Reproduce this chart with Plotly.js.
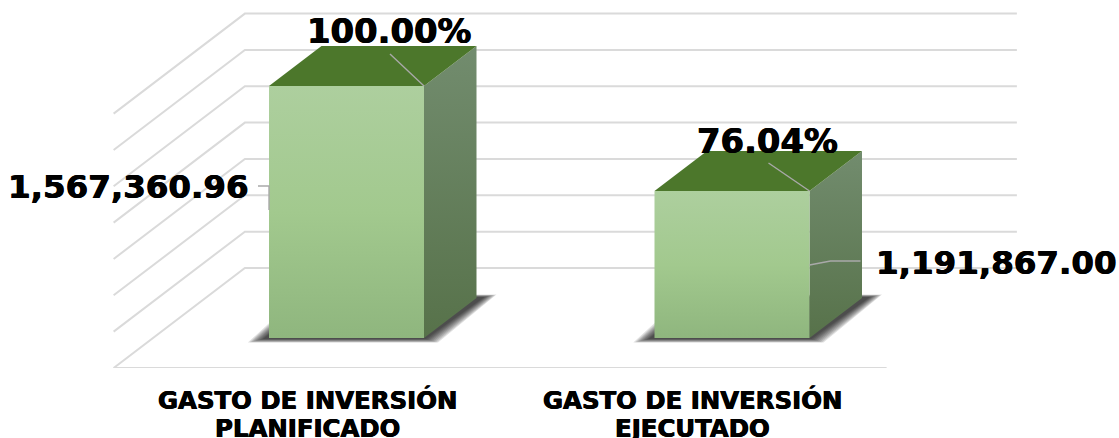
<!DOCTYPE html>
<html>
<head>
<meta charset="utf-8">
<script src="https://cdn.plot.ly/plotly-3.0.1.min.js"></script>
<style>html,body{margin:0;padding:0;background:#fff}</style>
</head>
<body>
<div id="chart" style="width:1119px;height:438px"></div>
<script>
// Data
var categoryLine1 = ["GASTO DE INVERSIÓN", "GASTO DE INVERSIÓN"];
var categoryLine2 = ["PLANIFICADO", "EJECUTADO"];
var values = [1567360.96, 1191867.00];
var valueLabels = ["1,567,360.96", "1,191,867.00"];
var percentLabels = ["100.00%", "76.04%"];
var axisBase = 666000;
var axisStep = 130000;
var gridIndex = [0, 1, 2, 3, 4, 5, 6, 7];

// Scale helpers: pixels to axis units (plot area 1119 x 368)
var PXX = 385.5, PXV = 252 / (values[0] - axisBase);
function dx(p) { return p / PXX; }
function dv(p) { return p / PXV; }
var xRange = [-346.5 / PXX, (1119 - 346.5) / PXX];
var yRange = [axisBase - dv(30), axisBase + dv(338)];

var halfW = dx(77.5), dX = dx(52.5), dV = dv(40);
var FRONT = -0.75, BACK = 1.75;
var wallL = dx(153 - 346.5), wallR = wallL + dx(773);
var GRID = '#dadada', LEAD = '#a9a9a9';

var traces = [];
function poly(xs, ys, color, grad) {
  var t = { x: xs.concat([xs[0]]), y: ys.concat([ys[0]]), type: 'scatter', mode: 'lines', fill: 'toself',
    line: { width: 0 }, hoverinfo: 'skip', showlegend: false, cliponaxis: false };
  if (grad) { t.fillgradient = { type: 'vertical', colorscale: grad }; t.fillcolor = 'rgba(0,0,0,0)'; }
  else t.fillcolor = color;
  traces.push(t);
}
function line(xs, ys, color, w) {
  traces.push({ x: xs, y: ys, type: 'scatter', mode: 'lines', line: { color: color, width: w },
    hoverinfo: 'skip', showlegend: false, cliponaxis: false });
}
function px(d) { return wallL + d * dX; }

// Walls and floor
var backBase = axisBase + BACK * dV;
line([px(FRONT), wallR + FRONT * dX], [axisBase + FRONT * dV, axisBase + FRONT * dV], GRID, 2);
gridIndex.forEach(function (i) {
  var v = backBase + i * axisStep;
  line([px(FRONT), px(BACK), px(BACK) + dx(772)], [v - (BACK - FRONT) * dV, v, v], GRID, 2);
});

// Bars
values.forEach(function (val, i) {
  var l = i - halfW, r = i + halfW, b = axisBase;
  // soft shadow: translucent layers that grow outward from the bar footprint
  [8, 7, 6, 5, 4, 3, 2, 1, 0].forEach(function (e) {
    var yF = b - dv(1 + e * 0.45), yB = b + dV + dv(1 + e * 0.3);
    poly([l - dx(6 + e * 1.9), r + dx(2 + e * 1.5), r + dX + dx(8 + e * 1.5), l - dx(6 + e * 1.9) + dX],
         [yF, yF, yB, yB], 'rgba(0,0,0,0.12)');
  });
  // right side face
  poly([r, r + dX, r + dX, r], [b, b + dV, val + dV, val], null,
       [[0, '#57724a'], [1, '#728c6e']]);
  // top face
  poly([l, r, r + dX, l + dX], [val, val, val + dV, val + dV], '#4c772b');
  // front face
  poly([l, r, r, l], [b, b, val, val], null,
       [[0, '#8fb67e'], [0.5, '#a2c98e'], [1, '#adcf9e']]);
});

// Leader lines
line([0 + halfW, 0 + halfW - dx(34)], [values[0], values[0] + dv(32)], LEAD, 1.4);
line([0 - halfW, 0 - halfW, 0 - halfW - dx(11)], [values[0] - dv(124), values[0] - dv(100), values[0] - dv(100)], LEAD, 1.4);
line([1 + halfW, 1 + halfW - dx(41)], [values[1], values[1] + dv(28)], LEAD, 1.4);
line([1 + halfW, 1 + halfW + dx(21), 1 + halfW + dx(51)], [values[1] - dv(74), values[1] - dv(70), values[1] - dv(70)], LEAD, 1.4);

var HEAVY = '0.5px 0 0 #000, -0.4px 0 0 #000';
function font(size) { return { family: 'DejaVu Sans', size: size, color: '#000', weight: 700, shadow: HEAVY }; }
function note(x, y, text, xs, ys, size) {
  return { x: x, y: y, xref: 'x', yref: 'y', text: '<b>' + text + '</b>', showarrow: false,
    xanchor: 'center', yanchor: 'middle', xshift: xs, yshift: ys, font: font(size) };
}
var annotations = [
  note(0, values[0], percentLabels[0], 42.5, 55, 33.8),
  note(1, values[1], percentLabels[1], 35, 49, 33.8),
  note(0, values[0], valueLabels[0], -218, -101, 32.5),
  note(1, values[1], valueLabels[1], 264, -72, 32.5)
];
// Category labels, placed under the front edge of the floor
categoryLine1.forEach(function (t, i) {
  annotations.push(note(i + FRONT * dX, axisBase + FRONT * dV, t, 0, -32, 24.4));
  annotations.push(note(i + FRONT * dX, axisBase + FRONT * dV, categoryLine2[i], 0, -60, 24.4));
});

var layout = {
  width: 1119, height: 438, margin: { l: 0, r: 0, t: 0, b: 70 },
  paper_bgcolor: '#fff', plot_bgcolor: 'rgba(0,0,0,0)', showlegend: false,
  xaxis: { range: xRange, visible: false, showgrid: false, zeroline: false },
  yaxis: { range: yRange, visible: false, showgrid: false, zeroline: false },
  annotations: annotations
};
Plotly.newPlot('chart', traces, layout, { staticPlot: true, displayModeBar: false });
</script>
</body>
</html>
